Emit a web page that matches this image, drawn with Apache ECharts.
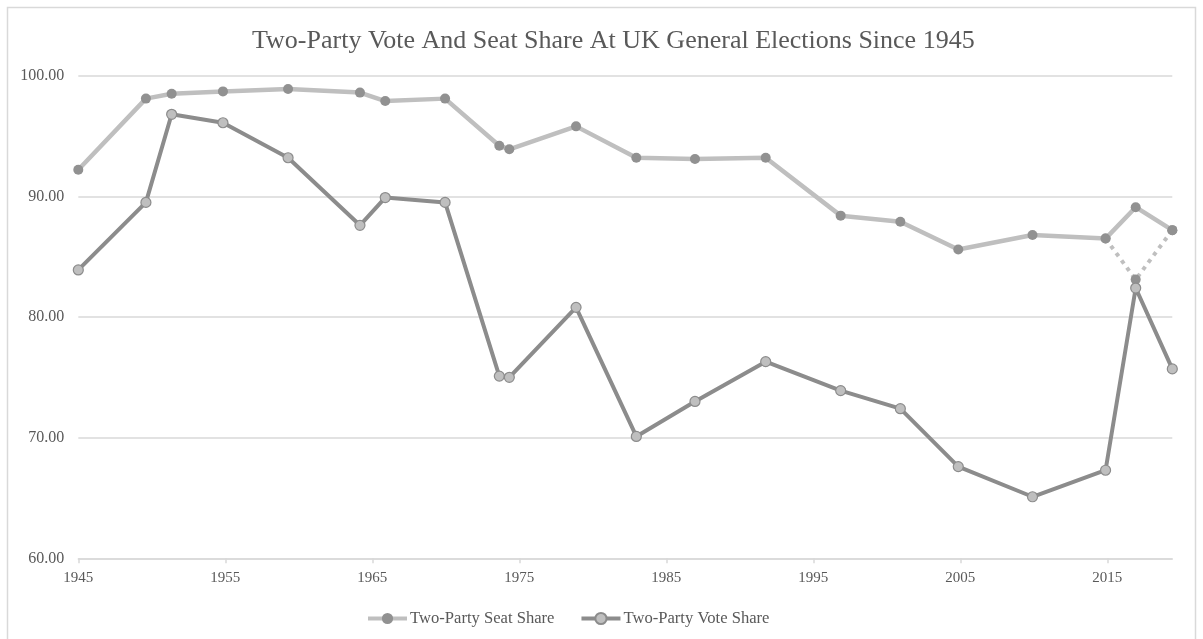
<!DOCTYPE html>
<html>
<head>
<meta charset="utf-8">
<title>Two-Party Vote And Seat Share</title>
<script src="https://cdn.jsdelivr.net/npm/echarts@6/dist/echarts.min.js"></script>
<style>
  html, body { margin: 0; padding: 0; background: #fff; }
  #main { width: 1203px; height: 639px; }
</style>
</head>
<body>
<div id="main"></div>
<script>
// election dates (decimal years)
var years = [1945, 1949.6, 1951.35, 1954.84, 1959.27, 1964.16, 1965.88, 1969.95, 1973.64, 1974.32,
             1978.86, 1982.96, 1986.95, 1991.76, 1996.86, 2000.92, 2004.86, 2009.91, 2014.88, 2016.93, 2019.42];
var seatShare = [92.2, 98.1, 98.5, 98.7, 98.9, 98.6, 97.9, 98.1, 94.2, 93.9,
                 95.8, 93.2, 93.1, 93.2, 88.4, 87.9, 85.6, 86.8, 86.5, 89.1, 87.2];
var voteShare = [83.9, 89.5, 96.8, 96.1, 93.2, 87.6, 89.9, 89.5, 75.1, 75.0,
                 80.8, 70.1, 73.0, 76.3, 73.9, 72.4, 67.6, 65.1, 67.3, 82.4, 75.7];
// dotted detour drawn between 2015 and 2019
var altYears = [2014.88, 2016.93, 2019.42];
var altSeat = [86.5, 83.1, 87.2];
var xTicks = [1945, 1955, 1965, 1975, 1985, 1995, 2005, 2015];

function pairs(xs, ys) {
	return xs.map(function (x, i) { return [x, ys[i]]; });
}

var myChart = echarts.init(document.getElementById('main'));
var font = "'Liberation Serif', 'DejaVu Serif', serif";
var option = {
	backgroundColor: '#fff',
	animation: false,
	title: {
		text: 'Two-Party Vote And Seat Share At UK General Elections Since 1945',
		left: 247,
		top: 23,
		textStyle: { fontFamily: font, fontWeight: 'normal', fontSize: 26, color: '#595959' }
	},
	graphic: [{
		type: 'rect',
		shape: { x: 7.5, y: 7.5, width: 1188, height: 650 },
		style: { fill: 'none', stroke: '#d9d9d9', lineWidth: 1.5 },
		silent: true
	}],
	legend: {
		data: ['Two-Party Seat Share', 'Two-Party Vote Share'],
		left: 366,
		top: 610,
		padding: 0,
		itemWidth: 39,
		itemHeight: 14,
		itemGap: 25,
		lineStyle: { width: 4 },
		textStyle: { fontFamily: font, fontSize: 16.6, color: '#595959', padding: [0, 0, 0, -2] }
	},
	grid: { left: 78.3, right: 30.7, top: 75.7, bottom: 80.7 },
	xAxis: {
		type: 'value',
		min: 1945,
		max: 2019.42,
		axisLine: { lineStyle: { color: '#d9d9d9', width: 1.5 } },
		axisTick: { show: true, length: 5, customValues: xTicks, lineStyle: { color: '#d9d9d9', width: 1.5 } },
		axisLabel: {
			customValues: xTicks, fontFamily: font, fontSize: 15, color: '#595959', margin: 12,
			formatter: function (v) { return String(v); }
		},
		splitLine: { show: false }
	},
	yAxis: {
		type: 'value',
		min: 60,
		max: 100,
		interval: 10,
		axisLine: { show: false },
		axisTick: { show: false },
		axisLabel: {
			fontFamily: font, fontSize: 16, color: '#595959', margin: 14,
			formatter: function (v) { return v.toFixed(2); }
		},
		splitLine: { lineStyle: { color: '#d9d9d9', width: 1.5 } }
	},
	series: [
		{
			name: 'alt',
			type: 'line',
			data: pairs(altYears, altSeat),
			symbol: 'circle',
			symbolSize: 10,
			lineStyle: { color: '#bfbfbf', width: 4, type: [4, 5] },
			itemStyle: { color: '#919191' },
			z: 2
		},
		{
			name: 'Two-Party Seat Share',
			type: 'line',
			data: pairs(years, seatShare),
			symbol: 'circle',
			symbolSize: 10,
			lineStyle: { color: '#bfbfbf', width: 4.5 },
			itemStyle: { color: '#919191' },
			z: 3
		},
		{
			name: 'Two-Party Vote Share',
			type: 'line',
			data: pairs(years, voteShare),
			symbol: 'circle',
			symbolSize: 10,
			lineStyle: { color: '#8c8c8c', width: 4 },
			itemStyle: { color: '#bfbfbf', borderColor: '#8c8c8c', borderWidth: 1.2 },
			z: 4
		}
	]
};
myChart.setOption(option);
</script>
</body>
</html>
